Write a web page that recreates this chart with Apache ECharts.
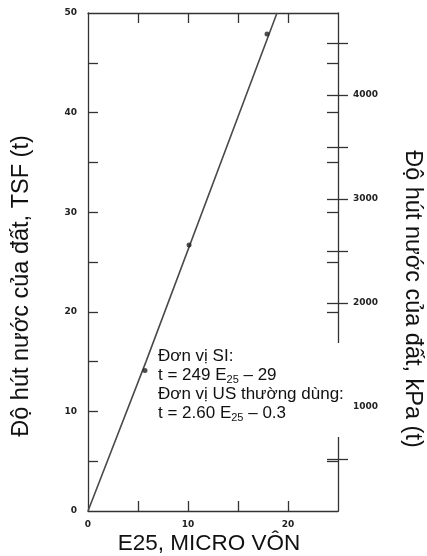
<!DOCTYPE html>
<html>
<head>
<meta charset="utf-8">
<script src="https://cdn.jsdelivr.net/npm/echarts@6/dist/echarts.min.js"></script>
<style>
html,body{margin:0;padding:0;background:#fff;}
#chart{width:427px;height:556px;}
</style>
</head>
<body>
<div id="chart"></div>
<script>
// ---- data ----
const TSF_TO_KPA = 95.76;
const xMin = 0, xMax = 25;
const tsfMin = 0, tsfMax = 50;
const lineE = [0, 5.8, 18.9];
const lineT = [0, 15.0, 50];
const pointE = [5.7, 10.1, 17.9];
const pointT = [14.1, 26.7, 47.9];
const xLabelValues = [0, 10, 20];
const xTickValues = [5, 10, 15, 20];
const tsfLabelValues = [0, 10, 20, 30, 40, 50];
const tsfTickValues = [5, 10, 15, 20, 25, 30, 35, 40, 45];
const kpaLabelValues = [1000, 2000, 3000, 4000];
const kpaTickValues = [500, 1000, 1500, 2000, 2500, 3000, 3500, 4000, 4500];
const xTitle = 'E25, MICRO VÔN';
const leftTitle = 'Độ hút nước của đất, TSF (t)';
const rightTitle = 'Độ hút nước của đất, kPa (t)';
const noteText = 'Đơn vị SI:\nt = 249 E{sub|25} – 29\nĐơn vị US thường dùng:\nt = 2.60 E{sub|25} – 0.3';

// ---- chart ----
const AX = '#333';
const lblFont = () => ({fontFamily: 'DejaVu Sans', fontWeight: 'bold', fontSize: 9, color: '#222', formatter: v => String(v)});
const axLine = () => ({show: true, onZero: false, lineStyle: {color: AX, width: 1.3}});
const noLine = () => ({show: false, onZero: false});
const tick = (inside, len, vals) => ({show: true, inside: inside, length: len, lineStyle: {color: AX, width: 1.3}, customValues: vals});
const chart = echarts.init(document.getElementById('chart'), null, {renderer: 'canvas'});
const option = {
  backgroundColor: '#fff',
  animation: false,
  grid: {left: 88, right: 89, top: 13, bottom: 45, containLabel: false},
  xAxis: [
    {type: 'value', position: 'bottom', min: xMin, max: xMax, interval: 5,
     axisLine: axLine(), axisTick: tick(true, 10, xTickValues),
     axisLabel: Object.assign(lblFont(), {show: true, margin: 9, customValues: xLabelValues}),
     splitLine: {show: false}},
    {type: 'value', position: 'top', min: xMin, max: xMax, interval: 5,
     axisLine: axLine(), axisTick: tick(true, 10, xTickValues),
     axisLabel: {show: false}, splitLine: {show: false}}
  ],
  yAxis: [
    {type: 'value', position: 'left', min: tsfMin, max: tsfMax, interval: 5,
     axisLine: axLine(), axisTick: tick(true, 10, tsfTickValues),
     axisLabel: Object.assign(lblFont(), {show: true, margin: 11, customValues: tsfLabelValues}),
     splitLine: {show: false}},
    {type: 'value', position: 'right', min: 0, max: tsfMax * TSF_TO_KPA, interval: 500, alignTicks: false,
     axisLine: axLine(), axisTick: tick(false, 10, kpaTickValues),
     axisLabel: Object.assign(lblFont(), {show: true, margin: 15, customValues: kpaLabelValues}),
     splitLine: {show: false}},
    {type: 'value', position: 'right', min: 0, max: tsfMax * TSF_TO_KPA, interval: 500, alignTicks: false,
     axisLine: noLine(), axisTick: tick(true, 11, kpaTickValues),
     axisLabel: {show: false}, splitLine: {show: false}},
    {type: 'value', position: 'right', min: tsfMin, max: tsfMax, interval: 5, alignTicks: false,
     axisLine: noLine(), axisTick: tick(true, 11, tsfTickValues),
     axisLabel: {show: false}, splitLine: {show: false}}
  ],
  series: [
    {type: 'line', xAxisIndex: 0, yAxisIndex: 0, symbol: 'none', z: 3,
     data: lineE.map((e, i) => [e, lineT[i]]),
     lineStyle: {color: '#4a4a4a', width: 1.6}},
    {type: 'scatter', xAxisIndex: 0, yAxisIndex: 0, symbol: 'circle', symbolSize: 5, z: 4,
     data: pointE.map((e, i) => [e, pointT[i]]),
     itemStyle: {color: '#222'}}
  ],
  graphic: [
    {type: 'rect', z: 10, shape: {x: 322, y: 343, width: 29, height: 94}, style: {fill: '#fff'}},
    {type: 'text', z: 20, x: 158, y: 347,
     style: {text: noteText, fontFamily: 'Liberation Sans', fontSize: 17, lineHeight: 19, fill: '#111',
             rich: {sub: {fontFamily: 'Liberation Sans', fontSize: 11, lineHeight: 19, verticalAlign: 'bottom', fill: '#111'}}}},
    {type: 'text', z: 20, x: 209, y: 544,
     style: {text: xTitle, fontFamily: 'Liberation Sans', fontSize: 22.5, fill: '#111', align: 'center', verticalAlign: 'middle'}},
    {type: 'text', z: 20, x: 22, y: 286, rotation: Math.PI / 2,
     style: {text: leftTitle, fontFamily: 'Liberation Sans', fontSize: 23.5, fill: '#111', align: 'center', verticalAlign: 'middle'}},
    {type: 'text', z: 20, x: 412, y: 299, rotation: -Math.PI / 2,
     style: {text: rightTitle, fontFamily: 'Liberation Sans', fontSize: 23.5, fill: '#111', align: 'center', verticalAlign: 'middle'}}
  ]
};
chart.setOption(option);
</script>
</body>
</html>
